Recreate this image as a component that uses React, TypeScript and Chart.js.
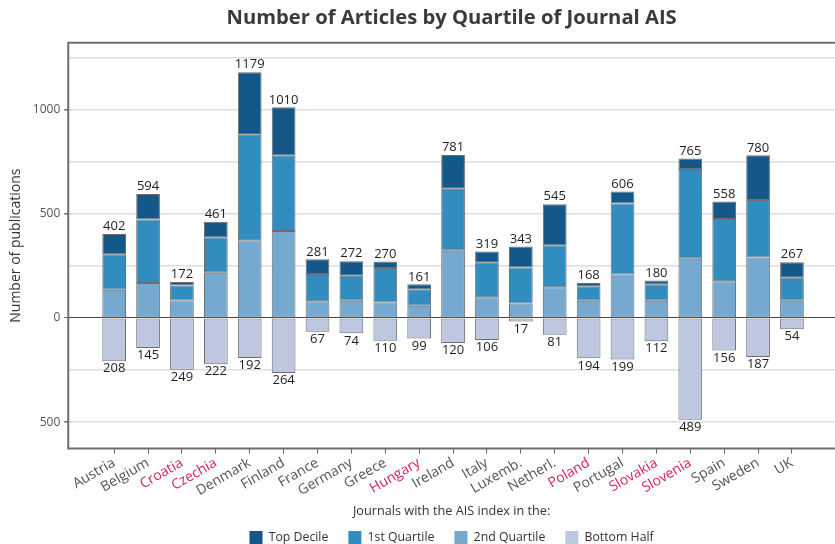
import React, { useEffect, useRef } from "react";
import { Chart, registerables } from "chart.js";

Chart.register(...registerables);

const FONT = '"Open Sans", sans-serif';

const categories = ["Austria", "Belgium", "Croatia", "Czechia", "Denmark", "Finland", "France", "Germany", "Greece", "Hungary", "Ireland", "Italy", "Luxemb.", "Netherl.", "Poland", "Portugal", "Slovakia", "Slovenia", "Spain", "Sweden", "UK"];
const highlighted = ["Croatia", "Czechia", "Hungary", "Poland", "Slovakia", "Slovenia"];
const topDecile = [97, 122, 17, 74, 300, 230, 71, 70, 31, 23, 162, 54, 101, 197, 16, 57, 18, 51, 83, 214, 74];
const firstQuartile = [170, 304, 72, 170, 507, 363, 130, 120, 165, 80, 297, 166, 173, 201, 70, 341, 80, 430, 299, 276, 111];
const secondQuartile = [135, 168, 83, 217, 372, 417, 80, 82, 74, 58, 322, 99, 69, 147, 82, 208, 82, 284, 176, 290, 82];
const bottomHalf = [208, 145, 249, 222, 192, 264, 67, 74, 110, 99, 120, 106, 17, 81, 194, 199, 112, 489, 156, 187, 54];
const seriesNames = ["2nd Quartile", "1st Quartile", "Top Decile", "Bottom Half"];
const legendRank = [2, 1, 0, 3];
const yTickValues = [-500, -250, 0, 250, 500, 750, 1000, 1250];
const yLabelledTicks = [-500, 0, 500, 1000];

const COLORS = ["#76a9cf", "#318cbf", "#14588a", "#bdc8e0"];
const RED = "#d61f5b";
const GRAY = "#555555";

export default function App() {
  const ref = useRef<HTMLCanvasElement | null>(null);

  useEffect(() => {
    if (!ref.current) return;
    const totals = categories.map((_, i) => topDecile[i] + firstQuartile[i] + secondQuartile[i]);
    const toPoints = (arr: number[], sign = 1) => arr.map((v, i) => ({ x: i, y: sign * v }));

    const framePlugin = {
      id: "frame",
      afterDatasetsDraw(chart: any) {
        const { ctx, chartArea } = chart;
        ctx.save();
        ctx.strokeStyle = "#6f6f6f";
        ctx.lineWidth = 2;
        ctx.beginPath();
        ctx.moveTo(chartArea.right + 2, chartArea.top);
        ctx.lineTo(chartArea.left, chartArea.top);
        ctx.lineTo(chartArea.left, chartArea.bottom);
        ctx.lineTo(chartArea.right + 2, chartArea.bottom);
        ctx.stroke();
        ctx.restore();
      },
    };

    const labelPlugin = {
      id: "valueLabels",
      afterDatasetsDraw(chart: any) {
        const { ctx } = chart;
        const topMeta = chart.getDatasetMeta(2);
        const botMeta = chart.getDatasetMeta(3);
        ctx.save();
        ctx.font = "13px " + FONT;
        ctx.fillStyle = "#1e1e1e";
        ctx.textAlign = "center";
        ctx.textBaseline = "bottom";
        topMeta.data.forEach((bar: any, i: number) => {
          ctx.fillText(String(totals[i]), bar.x, bar.y - 1);
        });
        ctx.textBaseline = "top";
        botMeta.data.forEach((bar: any, i: number) => {
          ctx.fillText(String(bottomHalf[i]), bar.x, bar.y + 1);
        });
        ctx.restore();
      },
    };

    const makeDs = (label: string, data: any[], color: string) => ({
      label,
      data,
      backgroundColor: color,
      borderColor: "#6e6e6e",
      borderWidth: 1,
      borderSkipped: false as const,
      barPercentage: 0.7,
      categoryPercentage: 1,
    });

    const chart = new Chart(ref.current, {
      type: "bar",
      data: {
        datasets: [
          makeDs(seriesNames[0], toPoints(secondQuartile), COLORS[0]),
          makeDs(seriesNames[1], toPoints(firstQuartile), COLORS[1]),
          makeDs(seriesNames[2], toPoints(topDecile), COLORS[2]),
          makeDs(seriesNames[3], toPoints(bottomHalf, -1), COLORS[3]),
        ],
      },
      plugins: [framePlugin, labelPlugin],
      options: {
        animation: false,
        responsive: true,
        maintainAspectRatio: false,
        layout: { padding: { left: 4, right: 0, top: 0, bottom: -10 } },
        plugins: {
          title: {
            display: true,
            text: "Number of Articles by Quartile of Journal AIS",
            fullSize: false,
            color: "#3a3a3a",
            font: { family: FONT, size: 20.2, weight: "bold" },
            padding: { top: 6.5, bottom: 12 },
          },
          legend: {
            position: "bottom",
            fullSize: false,
            labels: {
              boxWidth: 13,
              boxHeight: 13,
              padding: 20,
              color: "#333333",
              font: { family: FONT, size: 12.3 },
              generateLabels: (c: any) =>
                Chart.defaults.plugins.legend.labels.generateLabels(c).map((l: any) => ({ ...l, lineWidth: 0, strokeStyle: "rgba(0,0,0,0)" })),
              sort: (a: any, b: any) => legendRank[a.datasetIndex] - legendRank[b.datasetIndex],
            },
          },
          tooltip: { enabled: false },
        },
        scales: {
          x: {
            type: "linear",
            stacked: true,
            offset: false,
            min: -1.355,
            max: 21.27,
            afterBuildTicks: (scale: any) => {
              scale.ticks = categories.map((_, i) => ({ value: i }));
            },
            ticks: {
              autoSkip: false,
              minRotation: 30,
              maxRotation: 30,
              padding: 1,
              font: { family: FONT, size: 14 },
              color: (ctx: any) => (highlighted.includes(categories[ctx.tick?.value]) ? RED : GRAY),
              callback: (v: any) => categories[v] ?? "",
            },
            grid: { offset: false, drawOnChartArea: false, drawTicks: true, tickLength: 5, color: "#666666", lineWidth: 1 },
            border: { display: false },
            title: {
              display: true,
              text: "Journals with the AIS index in the:",
              color: "#333333",
              font: { family: FONT, size: 12.7 },
              padding: { top: 3, bottom: -7.6 },
            },
          },
          y: {
            stacked: true,
            min: -627,
            max: 1320,
            afterBuildTicks: (scale: any) => {
              scale.ticks = yTickValues.map((v) => ({ value: v }));
            },
            ticks: {
              padding: 4,
              color: GRAY,
              font: { family: FONT, size: 12 },
              callback: (v: any) => (yLabelledTicks.includes(Number(v)) ? String(Math.abs(Number(v))) : ""),
            },
            grid: {
              color: (ctx: any) => (ctx.tick && ctx.tick.value === 0 ? "#4a4a4a" : "#dedede"),
              lineWidth: (ctx: any) => (ctx.tick && ctx.tick.value === 0 ? 1 : 1.5),
              tickLength: 4,
              tickColor: (ctx: any) => (ctx.tick && yLabelledTicks.includes(ctx.tick.value) ? "#666666" : "rgba(0,0,0,0)"),
            },
            border: { display: false },
            title: {
              display: true,
              text: "Number of publications",
              color: "#333333",
              font: { family: FONT, size: 14 },
              padding: { top: 4, bottom: 4 },
            },
          },
        },
      } as any,
    });
    return () => chart.destroy();
  }, []);

  return (
    <div style={{ position: "absolute", left: 0, top: 0, width: 835, height: 544 }}>
      <canvas ref={ref} />
    </div>
  );
}
